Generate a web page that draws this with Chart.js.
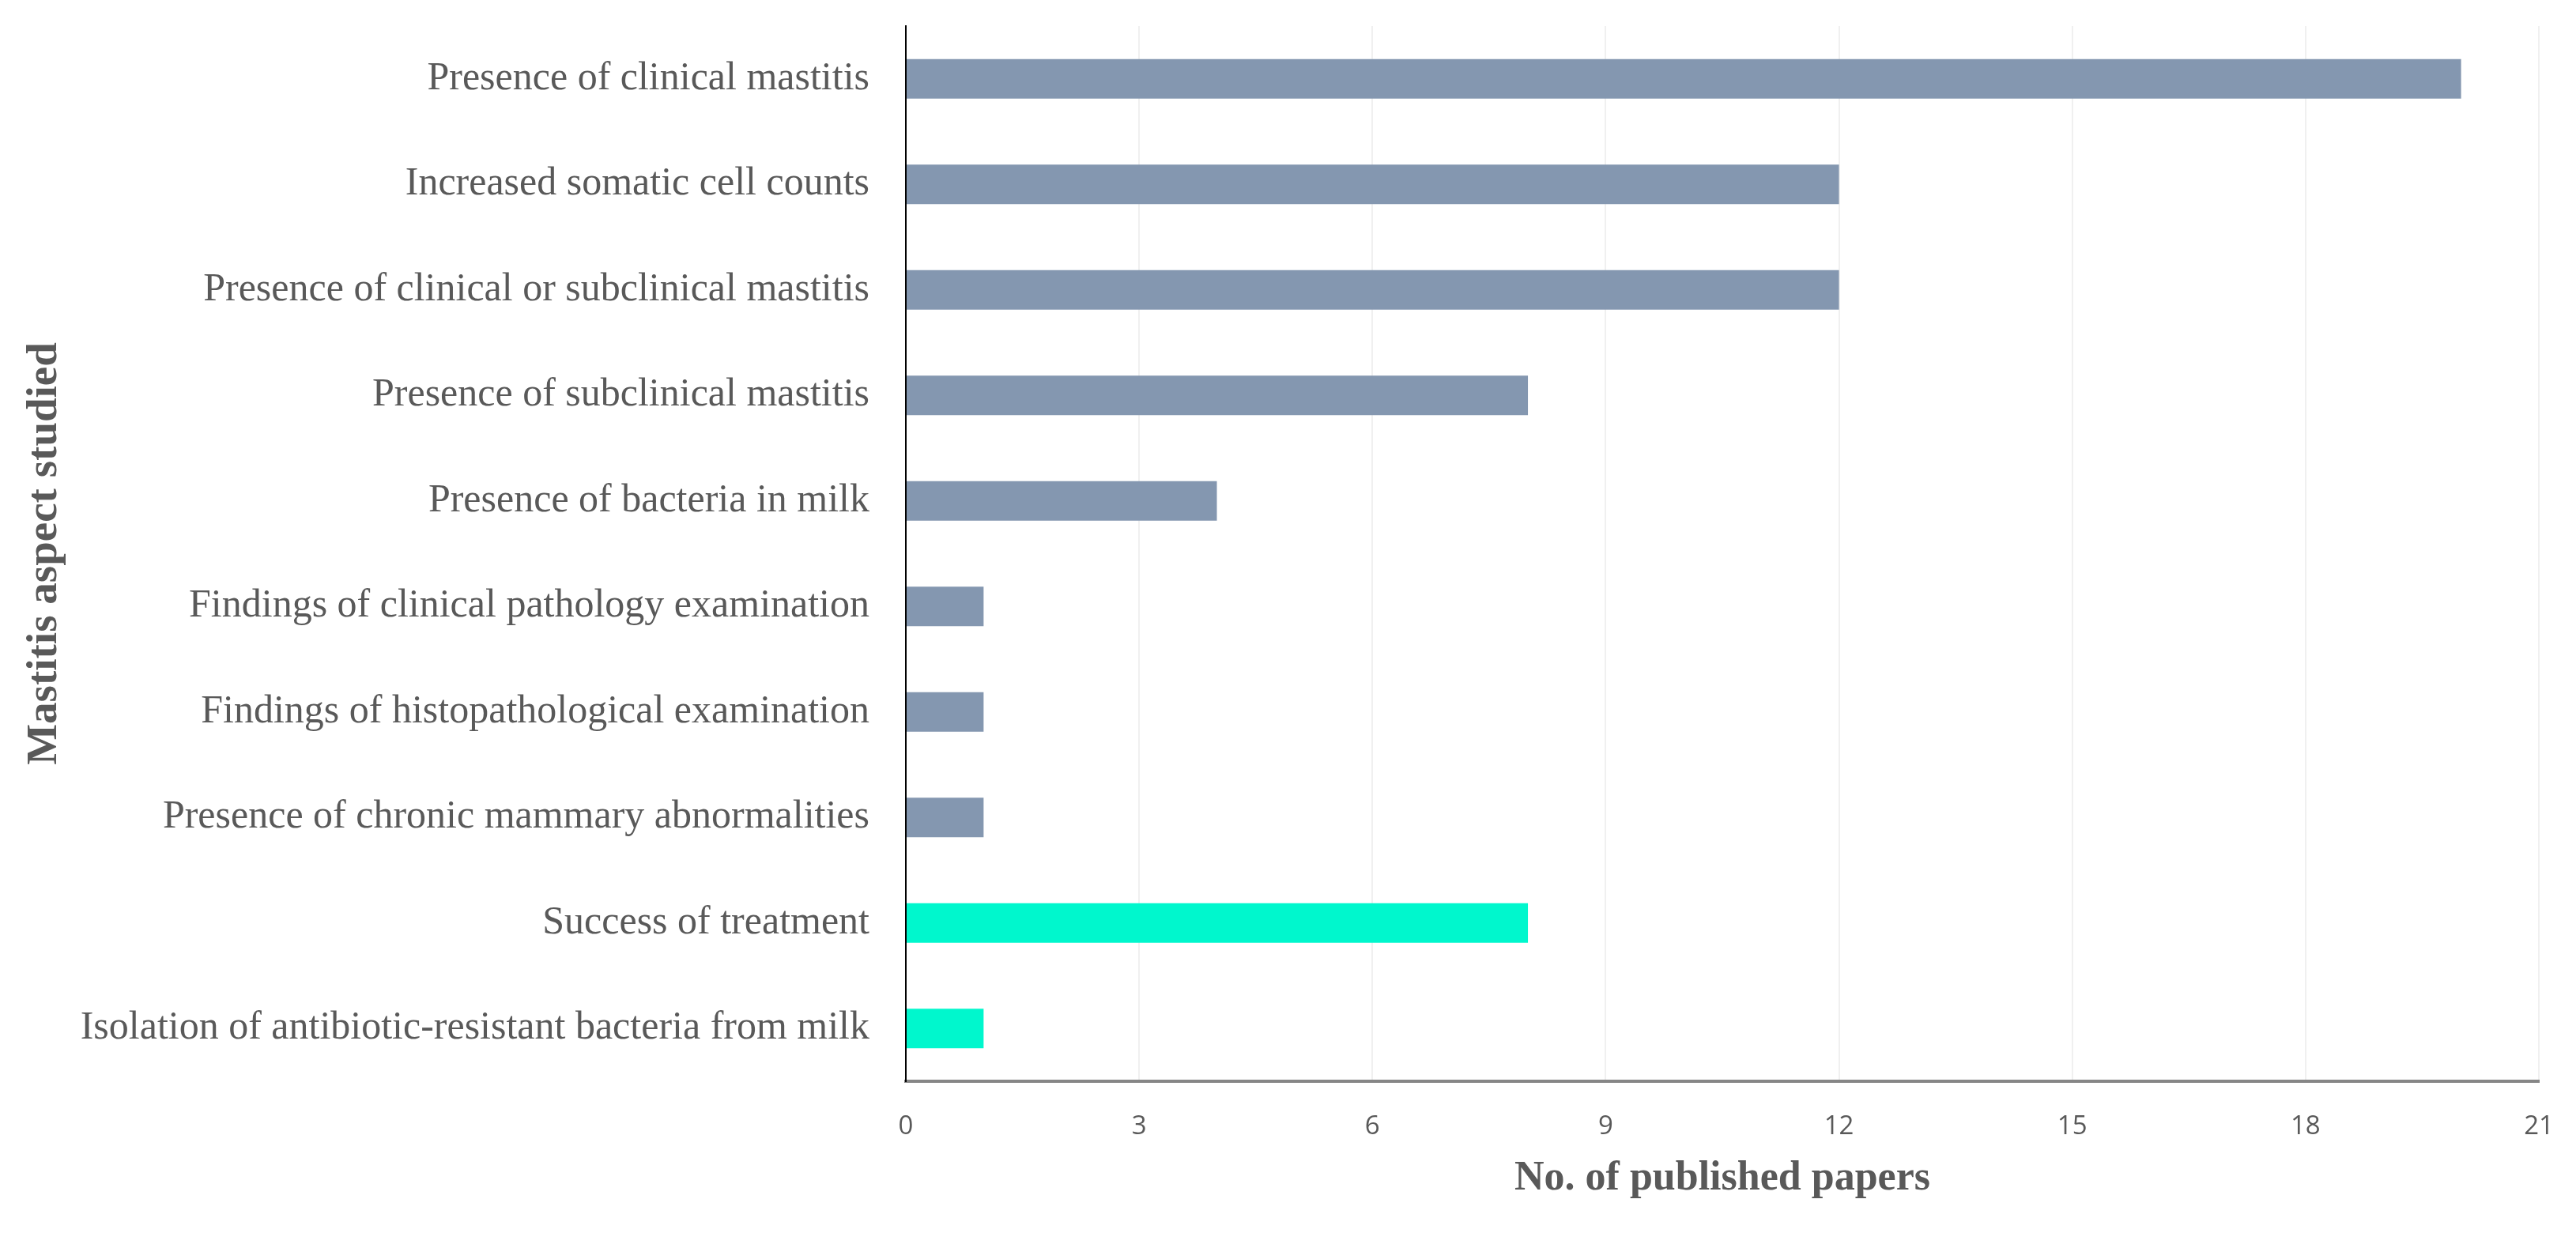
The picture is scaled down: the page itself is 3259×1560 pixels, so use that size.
<!DOCTYPE html>
<html lang="en">
<head>
  <meta charset="UTF-8">
  <title>Mastitis aspect studied</title>
  <script src="https://cdn.jsdelivr.net/npm/chart.js"></script>
  <style>
    html, body { margin: 0; padding: 0; background: #fff; }
    #wrap { width: 3259px; height: 1560px; }
  </style>
</head>
<body>
  <div id="wrap"><canvas id="myChart"></canvas></div>

  <script>
    const aspects = [
      'Presence of clinical mastitis',
      'Increased somatic cell counts',
      'Presence of clinical or subclinical mastitis',
      'Presence of subclinical mastitis',
      'Presence of bacteria in milk',
      'Findings of clinical pathology examination',
      'Findings of histopathological examination',
      'Presence of chronic mammary abnormalities',
      'Success of treatment',
      'Isolation of antibiotic-resistant bacteria from milk'
    ];
    const papers = [20, 12, 12, 8, 4, 1, 1, 1, 8, 1];
    // last two rows are treatment outcomes (drawn in teal)
    const isTreatment = [false, false, false, false, false, false, false, false, true, true];
    const xTicks = [0, 3, 6, 9, 12, 15, 18, 21];

    const BLUE = '#8497b0';
    const TEAL = '#00f7cd';
    const GREY = '#595959';

    const ctx = document.getElementById('myChart').getContext('2d');

    new Chart(ctx, {
      type: 'bar',
      data: {
        labels: aspects,
        datasets: [{
          data: papers,
          backgroundColor: isTreatment.map(t => t ? TEAL : BLUE),
          barPercentage: 0.375,
          categoryPercentage: 1
        }]
      },
      options: {
        indexAxis: 'y',
        responsive: true,
        maintainAspectRatio: false,
        animation: false,
        devicePixelRatio: 1,
        layout: { padding: { top: 33, right: 47, bottom: 0, left: 0 } },
        plugins: {
          legend: { display: false },
          tooltip: { enabled: false }
        },
        scales: {
          x: {
            min: 0,
            max: 21,
            afterBuildTicks: s => { s.ticks = xTicks.map(v => ({ value: v })); },
            afterFit: s => { s.height = 192; s.paddingLeft = 0; s.paddingRight = 0; },
            grid: { color: '#f0f0f0', lineWidth: 2, drawTicks: false },
            border: { color: '#868686', width: 4 },
            ticks: {
              padding: 38,
              color: GREY,
              font: { family: 'Open Sans', size: 33 }
            },
            title: {
              display: true,
              text: 'No. of published papers',
              color: GREY,
              padding: { top: 0, bottom: 37 },
              font: { family: 'Liberation Serif', size: 52, weight: 'bold' }
            }
          },
          y: {
            afterFit: s => { s.width = 1146; s.paddingTop = 0; s.paddingBottom = 0; },
            grid: { display: false, drawTicks: false },
            border: { color: '#000', width: 2 },
            ticks: {
              padding: 46,
              color: GREY,
              font: { family: 'Liberation Serif', size: 50 }
            },
            title: {
              display: true,
              text: 'Mastitis aspect studied',
              color: GREY,
              padding: { top: 24, bottom: 0 },
              font: { family: 'Liberation Serif', size: 55, weight: 'bold' }
            }
          }
        }
      }
    });
  </script>
</body>
</html>
